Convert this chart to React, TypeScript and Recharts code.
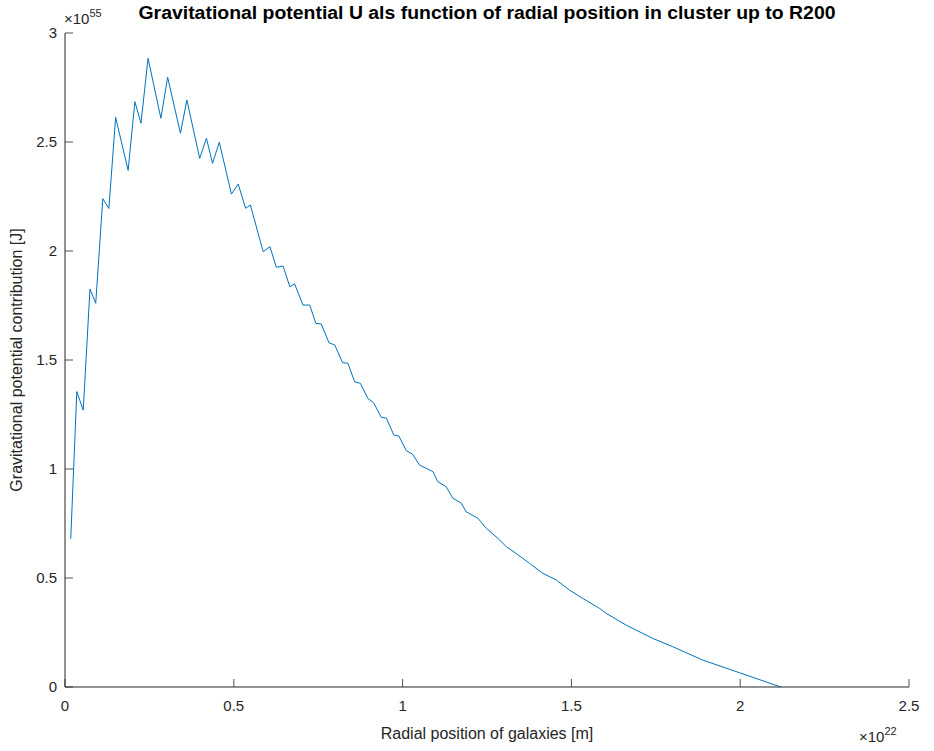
import { LineChart, Line, XAxis, YAxis } from "recharts";

// radial position (x 1e22 m) and potential contribution (x 1e55 J)
const radius = [
  0.017, 0.035, 0.054, 0.074, 0.091, 0.112, 0.13, 0.15, 0.187, 0.207, 0.225, 0.246,
  0.284, 0.304, 0.342, 0.361, 0.399, 0.419, 0.437, 0.457, 0.493, 0.513, 0.535, 0.549,
  0.587, 0.607, 0.626, 0.646, 0.666, 0.68, 0.705, 0.725, 0.743, 0.759, 0.782, 0.799,
  0.822, 0.838, 0.858, 0.875, 0.897, 0.914, 0.937, 0.952, 0.974, 0.989, 1.011, 1.029,
  1.05, 1.07, 1.09, 1.104, 1.129, 1.149, 1.174, 1.188, 1.223, 1.248, 1.282, 1.307,
  1.336, 1.376, 1.415, 1.455, 1.494, 1.533, 1.583, 1.603, 1.662, 1.741, 1.8, 1.888,
  1.997, 2.12,
];
const potential = [
  0.68, 1.355, 1.27, 1.826, 1.76, 2.24, 2.195, 2.613, 2.37, 2.685, 2.586, 2.884,
  2.609, 2.797, 2.54, 2.693, 2.425, 2.517, 2.402, 2.499, 2.261, 2.307, 2.196, 2.211,
  1.997, 2.02, 1.925, 1.931, 1.836, 1.849, 1.752, 1.752, 1.668, 1.665, 1.579, 1.569,
  1.488, 1.485, 1.4, 1.393, 1.324, 1.304, 1.237, 1.233, 1.156, 1.151, 1.084, 1.069,
  1.018, 1.003, 0.988, 0.942, 0.919, 0.866, 0.843, 0.804, 0.774, 0.728, 0.682, 0.644,
  0.613, 0.567, 0.522, 0.491, 0.445, 0.407, 0.361, 0.338, 0.284, 0.223, 0.185, 0.124,
  0.066, 0.0,
];
const xTicks = [0, 0.5, 1, 1.5, 2, 2.5];
const yTicks = [0, 0.5, 1, 1.5, 2, 2.5, 3];

const data = radius.map((r, i) => ({ r, u: potential[i] }));

const W = 934;
const H = 751;
const INK = "#262626";
const BLUE = "#0072BD";
const FONT = "'Liberation Sans', Arial, Helvetica, sans-serif";
const TICK = 8;

const BottomTick = ({ x, y, payload }: any) => (
  <g>
    <line x1={x} x2={x} y1={y} y2={y - TICK} stroke={INK} strokeWidth={0.8} />
    <text x={x} y={y + 24} textAnchor="middle" fontSize={15} fontFamily={FONT} fill={INK}>
      {payload.value}
    </text>
  </g>
);

const TopTick = ({ x, y }: any) => (
  <line x1={x} x2={x} y1={y} y2={y + TICK} stroke={INK} strokeWidth={0.8} />
);

const LeftTick = ({ x, y, payload }: any) => (
  <g>
    <line x1={x} x2={x + TICK} y1={y} y2={y} stroke={INK} strokeWidth={0.8} />
    <text x={x - 8} y={y + 5} textAnchor="end" fontSize={15} fontFamily={FONT} fill={INK}>
      {payload.value}
    </text>
  </g>
);

const RightTick = ({ x, y }: any) => (
  <line x1={x} x2={x - TICK} y1={y} y2={y} stroke={INK} strokeWidth={0.8} />
);

export default function App() {
  return (
    <div style={{ position: "absolute", left: 0, top: 0, width: W, height: H, background: "#fff" }}>
      <LineChart width={W} height={H} data={data} margin={{ top: 33, right: 25, bottom: 34, left: 25 }}>
        <XAxis
          xAxisId="b"
          dataKey="r"
          type="number"
          domain={[0, 2.5]}
          ticks={xTicks}
          height={30}
          tickSize={0}
          tickMargin={0}
          tickLine={false}
          axisLine={{ stroke: INK }}
          tick={<BottomTick />}
          interval={0}
        />
        <XAxis
          xAxisId="t"
          dataKey="r"
          type="number"
          orientation="top"
          domain={[0, 2.5]}
          ticks={xTicks}
          height={0}
          tickSize={0}
          tickMargin={0}
          tickLine={false}
          axisLine={{ stroke: INK }}
          tick={<TopTick />}
          interval={0}
        />
        <YAxis
          yAxisId="l"
          type="number"
          domain={[0, 3]}
          ticks={yTicks}
          width={40}
          tickSize={0}
          tickMargin={0}
          tickLine={false}
          axisLine={{ stroke: INK }}
          tick={<LeftTick />}
          interval={0}
        />
        <YAxis
          yAxisId="r"
          orientation="right"
          type="number"
          domain={[0, 3]}
          ticks={yTicks}
          width={0}
          tickSize={0}
          tickMargin={0}
          tickLine={false}
          axisLine={{ stroke: INK }}
          tick={<RightTick />}
          interval={0}
        />
        <Line
          xAxisId="b"
          yAxisId="l"
          type="linear"
          dataKey="u"
          stroke={BLUE}
          strokeWidth={1}
          dot={false}
          isAnimationActive={false}
        />
      </LineChart>
      <svg
        width={W}
        height={H}
        style={{ position: "absolute", left: 0, top: 0, pointerEvents: "none" }}
        fontFamily={FONT}
      >
        <text
          x={487}
          y={19}
          textAnchor="middle"
          fontSize={18}
          fontWeight="bold"
          fill="#000"
          textLength={697}
          lengthAdjust="spacingAndGlyphs"
        >
          Gravitational potential U als function of radial position in cluster up to R200
        </text>
        <text x={64} y={24} fontSize={15} fill={INK}>
          ×10<tspan dy={-7} fontSize={11}>55</tspan>
        </text>
        <text x={859} y={742} fontSize={15} fill={INK}>
          ×10<tspan dy={-7} fontSize={11}>22</tspan>
        </text>
        <text x={487} y={739} textAnchor="middle" fontSize={16} fill={INK}>
          Radial position of galaxies [m]
        </text>
        <text
          x={0}
          y={0}
          transform="translate(22,360) rotate(-90)"
          textAnchor="middle"
          fontSize={16}
          fill={INK}
        >
          Gravitational potential contribution [J]
        </text>
      </svg>
    </div>
  );
}
